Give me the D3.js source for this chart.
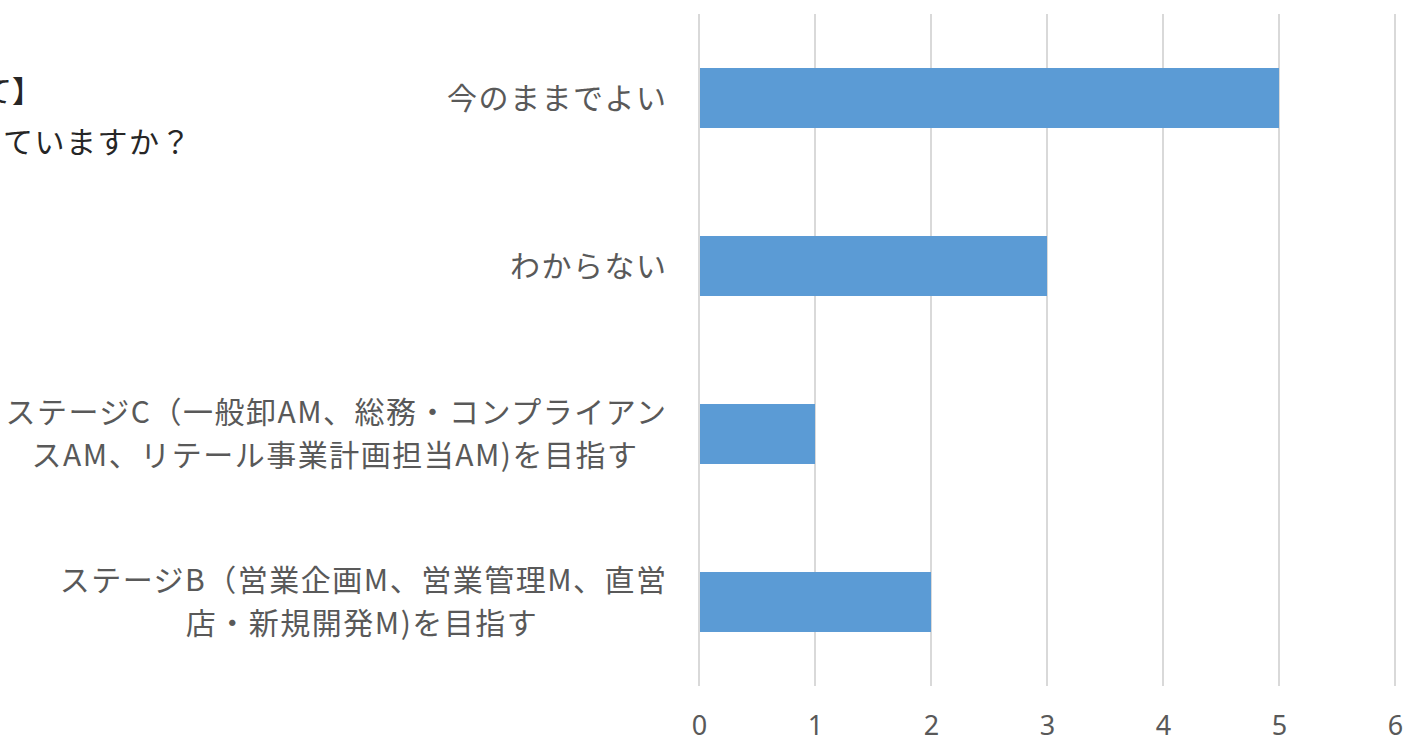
<!DOCTYPE html>
<html>
<head>
<meta charset="utf-8">
<script src="https://cdn.jsdelivr.net/npm/d3@7"></script>
<style>
  html, body { margin: 0; padding: 0; background: #fff; }
  svg { display: block; font-family: "Noto Sans CJK JP", sans-serif; }
</style>
</head>
<body>
<svg id="chart"></svg>
<script>
// data, top to bottom ("|" = line break in label)
const categories = ["今のままでよい", "わからない", "ステージC（一般卸AM、総務・コンプライアン|スAM、リテール事業計画担当AM)を目指す", "ステージB（営業企画M、営業管理M、直営|店・新規開発M)を目指す"];
const values     = [5, 3, 1, 2];
const xTicks     = [0, 1, 2, 3, 4, 5, 6];
const titleLines = ["て】", "ていますか？"];

const W = 1407, H = 744;
const margin = { top: 14, right: 12, bottom: 58, left: 699 };
const svg = d3.select("#chart").attr("width", W).attr("height", H);

const x = d3.scaleLinear().domain([0, 6]).range([margin.left, margin.left + 696]);
const y = d3.scaleBand().domain(categories).range([margin.top, H - margin.bottom]).paddingInner(0.643).paddingOuter(0.3215);

// gridlines
svg.append("g").selectAll("line").data(xTicks).join("line")
  .attr("x1", d => x(d)).attr("x2", d => x(d))
  .attr("y1", margin.top).attr("y2", H - margin.bottom)
  .attr("stroke", "#d9d9d9").attr("stroke-width", 2);

// bars
svg.append("g").selectAll("rect").data(values).join("rect")
  .attr("x", x(0) + 1).attr("y", (d, i) => y(categories[i]))
  .attr("width", d => x(d) - x(0) - 1).attr("height", y.bandwidth())
  .attr("fill", "#5b9bd5");

// x axis labels
const xAxis = svg.append("g").attr("transform", `translate(0,${H - margin.bottom})`)
  .call(d3.axisBottom(x).tickValues(xTicks).tickSize(0).tickPadding(30).tickFormat(d3.format("d")));
xAxis.select(".domain").remove();
xAxis.selectAll("text").attr("fill", "#595959").style("font-size", "27px")
  .style("font-family", "'Noto Sans', sans-serif");

// category labels
const labelRight = 666, lineGap = 43, ls = 1.5;
categories.forEach(c => {
  const lines = c.split("|");
  const cy = y(c) + y.bandwidth() / 2;
  const g = svg.append("g").attr("fill", "#595959").style("font-size", "30px").style("letter-spacing", ls + "px");
  const t0 = g.append("text").attr("x", labelRight + ls).attr("y", cy - (lines.length - 1) * lineGap / 2)
    .attr("dy", "0.36em").attr("text-anchor", "end").text(lines[0]);
  if (lines.length > 1) {
    const w0 = t0.node().getComputedTextLength();
    g.append("text").attr("x", labelRight - w0 / 2).attr("y", cy + lineGap / 2)
      .attr("dy", "0.36em").attr("text-anchor", "middle").text(lines[1]);
  }
});

// title fragment at left edge (cut off in the source)
svg.append("text").attr("x", 42).attr("y", 102).attr("text-anchor", "end")
  .attr("fill", "#262626").style("font-size", "30px").text(titleLines[0]);
svg.append("text").attr("x", 192).attr("y", 153).attr("text-anchor", "end")
  .attr("fill", "#262626").style("font-size", "30px").style("letter-spacing", "1.5px").text(titleLines[1]);
</script>
</body>
</html>
